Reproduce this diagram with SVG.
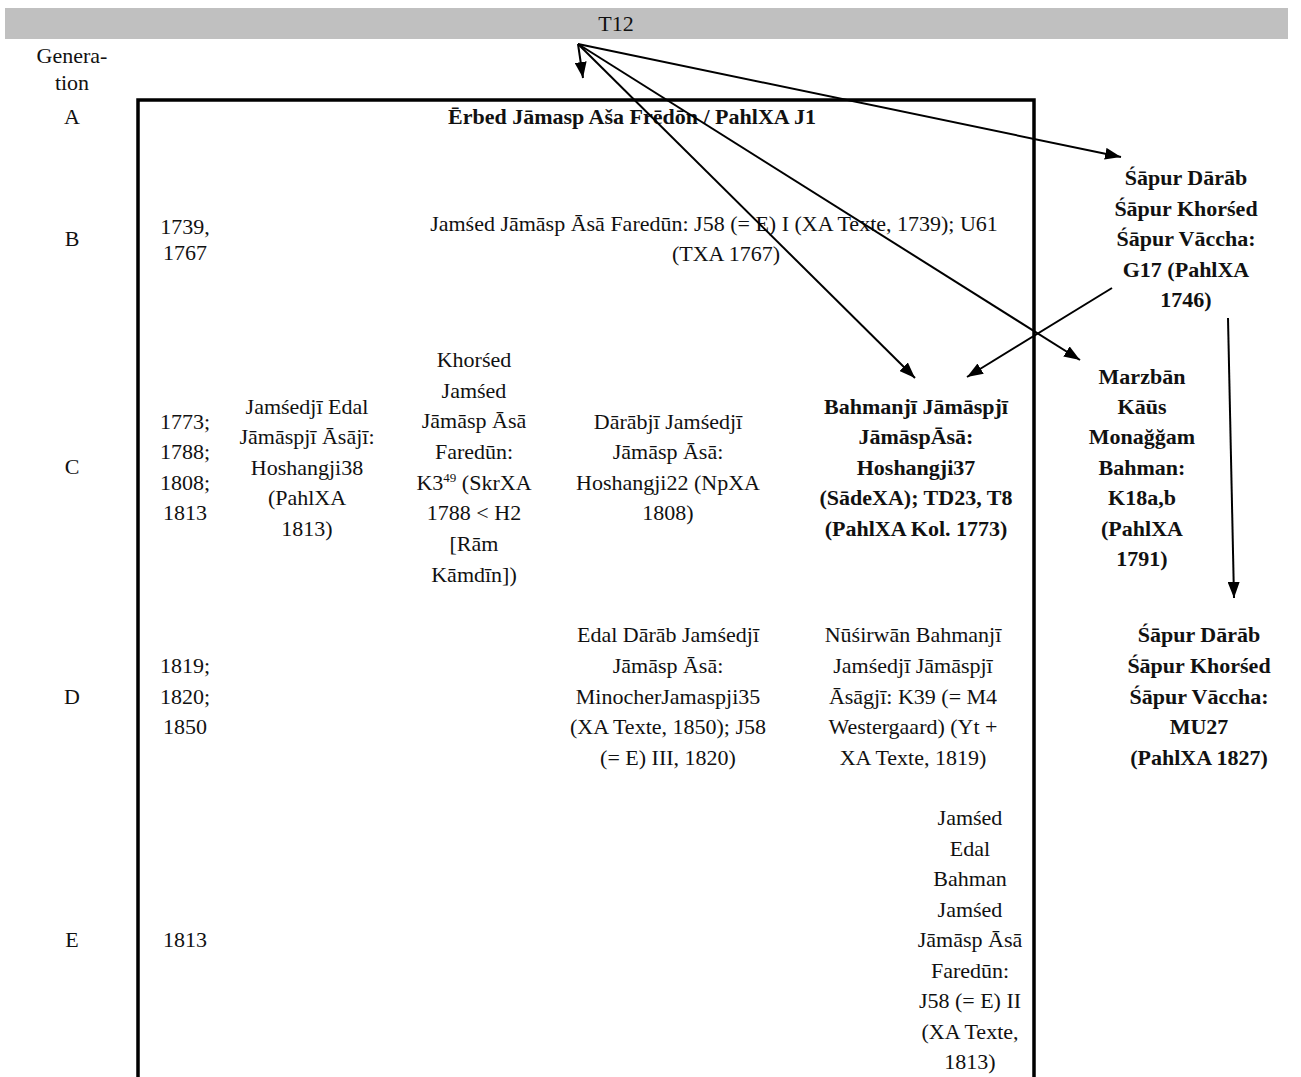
<svg xmlns="http://www.w3.org/2000/svg" width="1301" height="1077" viewBox="0 0 1301 1077">
<style>
text{font-family:"Liberation Serif","DejaVu Serif",serif;font-size:22px;fill:#111;text-anchor:middle}
.b{font-weight:bold}
.ln{stroke:#000;stroke-width:2;fill:none}
</style>
<defs>
<marker id="a" viewBox="0 0 16 12" refX="16" refY="6" markerWidth="16" markerHeight="12" markerUnits="userSpaceOnUse" orient="auto"><path d="M0,0 L16,6 L0,12 Z" fill="#000"/></marker>
</defs>
<rect width="1301" height="1077" fill="#fff"/>
<g id="header">
<rect x="5" y="8" width="1283" height="31" fill="#c0c0c0"/>
<text x="616" y="31">T12</text>
</g>
<g id="frame">
<path d="M138,1080 V100 H1034 V1080" fill="none" stroke="#000" stroke-width="3.5"/>
</g>
<g id="generations">
<text x="72" y="63">Genera-</text>
<text x="72" y="90">tion</text>
<text x="72" y="124">A</text>
<text x="72" y="246">B</text>
<text x="72" y="474">C</text>
<text x="72" y="704">D</text>
<text x="72" y="947">E</text>
</g>
<g id="years">
<text x="185" y="234">1739,</text>
<text x="185" y="260">1767</text>
<text x="185" y="429">1773;</text>
<text x="185" y="459">1788;</text>
<text x="185" y="490">1808;</text>
<text x="185" y="520">1813</text>
<text x="185" y="673">1819;</text>
<text x="185" y="704">1820;</text>
<text x="185" y="734">1850</text>
<text x="185" y="947">1813</text>
</g>
<g id="nodeA"><text class="b" x="632" y="124">Ērbed Jāmasp Aša Frēdōn / PahlXA J1</text></g>
<g id="nodeB">
<text x="714" y="231">Jamśed Jāmāsp Āsā Faredūn: J58 (= E) I (XA Texte, 1739); U61</text>
<text x="726" y="261">(TXA 1767)</text>
</g>
<g id="nodeC1">
<text x="307" y="414">Jamśedjī Edal</text>
<text x="307" y="444">Jāmāspjī Āsājī:</text>
<text x="307" y="475">Hoshangji38</text>
<text x="307" y="505">(PahlXA</text>
<text x="307" y="536">1813)</text>
</g>
<g id="nodeC2">
<text x="474" y="367">Khorśed</text>
<text x="474" y="398">Jamśed</text>
<text x="474" y="428">Jāmāsp Āsā</text>
<text x="474" y="459">Faredūn:</text>
<text x="474" y="490">K3<tspan font-size="13" dy="-8">49</tspan><tspan dy="8"> (SkrXA</tspan></text>
<text x="474" y="520">1788 &lt; H2</text>
<text x="474" y="551">[Rām</text>
<text x="474" y="582">Kāmdīn])</text>
</g>
<g id="nodeC3">
<text x="668" y="429">Dārābjī Jamśedjī</text>
<text x="668" y="459">Jāmāsp Āsā:</text>
<text x="668" y="490">Hoshangji22 (NpXA</text>
<text x="668" y="520">1808)</text>
</g>
<g id="nodeC4">
<text class="b" x="916" y="414">Bahmanjī Jāmāspjī</text>
<text class="b" x="916" y="444">JāmāspĀsā:</text>
<text class="b" x="916" y="475">Hoshangji37</text>
<text class="b" x="916" y="505">(SādeXA); TD23, T8</text>
<text class="b" x="916" y="536">(PahlXA Kol. 1773)</text>
</g>
<g id="nodeG17">
<text class="b" x="1186" y="185">Śāpur Dārāb</text>
<text class="b" x="1186" y="216">Śāpur Khorśed</text>
<text class="b" x="1186" y="246">Śāpur Vāccha:</text>
<text class="b" x="1186" y="277">G17 (PahlXA</text>
<text class="b" x="1186" y="307">1746)</text>
</g>
<g id="nodeK18">
<text class="b" x="1142" y="384">Marzbān</text>
<text class="b" x="1142" y="414">Kāūs</text>
<text class="b" x="1142" y="444">Monağğam</text>
<text class="b" x="1142" y="475">Bahman:</text>
<text class="b" x="1142" y="505">K18a,b</text>
<text class="b" x="1142" y="536">(PahlXA</text>
<text class="b" x="1142" y="566">1791)</text>
</g>
<g id="nodeMU27">
<text class="b" x="1199" y="642">Śāpur Dārāb</text>
<text class="b" x="1199" y="673">Śāpur Khorśed</text>
<text class="b" x="1199" y="704">Śāpur Vāccha:</text>
<text class="b" x="1199" y="734">MU27</text>
<text class="b" x="1199" y="765">(PahlXA 1827)</text>
</g>
<g id="nodeD1">
<text x="668" y="642">Edal Dārāb Jamśedjī</text>
<text x="668" y="673">Jāmāsp Āsā:</text>
<text x="668" y="704">MinocherJamaspji35</text>
<text x="668" y="734">(XA Texte, 1850); J58</text>
<text x="668" y="765">(= E) III, 1820)</text>
</g>
<g id="nodeD2">
<text x="913" y="642">Nūśirwān Bahmanjī</text>
<text x="913" y="673">Jamśedjī Jāmāspjī</text>
<text x="913" y="704">Āsāgjī: K39 (= M4</text>
<text x="913" y="734">Westergaard) (Yt +</text>
<text x="913" y="765">XA Texte, 1819)</text>
</g>
<g id="nodeE">
<text x="970" y="825">Jamśed</text>
<text x="970" y="856">Edal</text>
<text x="970" y="886">Bahman</text>
<text x="970" y="917">Jamśed</text>
<text x="970" y="947">Jāmāsp Āsā</text>
<text x="970" y="978">Faredūn:</text>
<text x="970" y="1008">J58 (= E) II</text>
<text x="970" y="1039">(XA Texte,</text>
<text x="970" y="1069">1813)</text>
</g>
<g id="connectors">
<line class="ln" x1="578" y1="44" x2="583" y2="78" marker-end="url(#a)"/>
<line class="ln" x1="578" y1="44" x2="1121" y2="157" marker-end="url(#a)"/>
<line class="ln" x1="578" y1="44" x2="915" y2="378" marker-end="url(#a)"/>
<line class="ln" x1="578" y1="44" x2="1080" y2="360" marker-end="url(#a)"/>
<line class="ln" x1="1112" y1="288" x2="967" y2="377" marker-end="url(#a)"/>
<line class="ln" x1="1228" y1="318" x2="1234" y2="598" marker-end="url(#a)"/>
</g>
</svg>
